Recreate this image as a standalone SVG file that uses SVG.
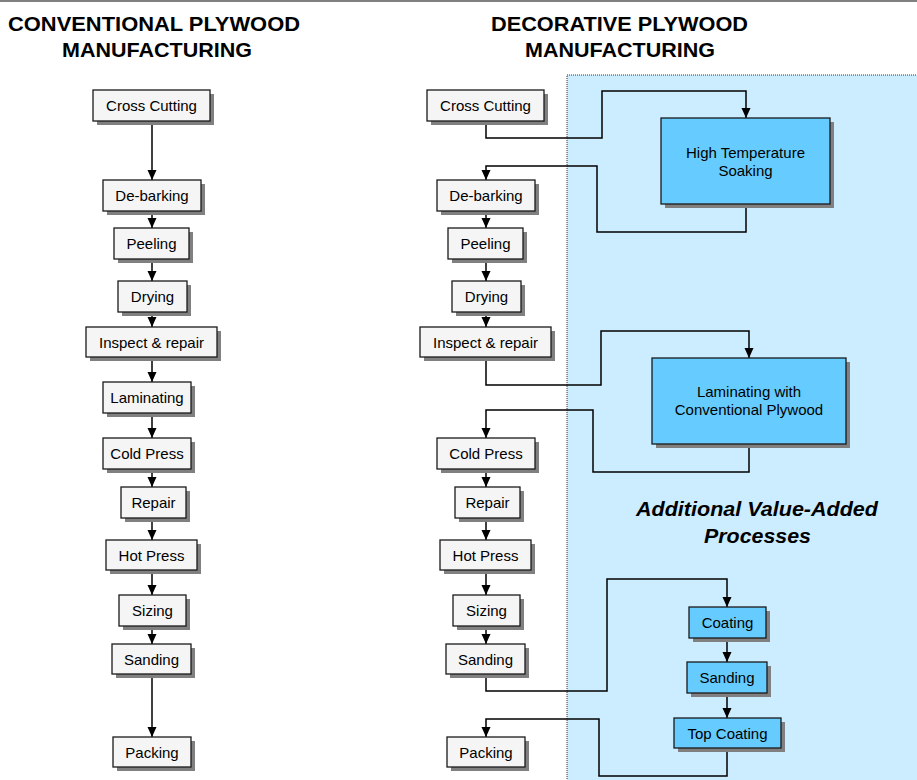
<svg xmlns="http://www.w3.org/2000/svg" width="917" height="780" viewBox="0 0 917 780">
<defs>
<marker id="arr" markerUnits="userSpaceOnUse" markerWidth="11" markerHeight="10" refX="10" refY="4.5" orient="auto" viewBox="0 0 11 10">
<path d="M0,0 L10,4.5 L0,9 Z" fill="#000"/>
</marker>
</defs>
<style>
.title{font-family:"Liberation Sans",Arial,sans-serif;font-weight:bold;font-size:20px;fill:#000;text-anchor:middle}
.sub{font-family:"Liberation Sans",Arial,sans-serif;font-weight:bold;font-style:italic;font-size:20px;fill:#000;text-anchor:middle}
.lbl{font-family:"Liberation Sans",Arial,sans-serif;font-size:15px;fill:#000;text-anchor:middle}
.sh{fill:#808080}
.bx{fill:#F5F5F5;stroke:#1a1a1a;stroke-width:1.3}
.bb{fill:#66CCFF;stroke:#1a1a1a;stroke-width:1.3}
.ln{fill:none;stroke:#000;stroke-width:1.5}
.la{fill:none;stroke:#000;stroke-width:1.5;marker-end:url(#arr)}
</style>
<rect x="0" y="0" width="917" height="2" fill="#808080"/>
<rect x="567" y="75" width="352" height="707" fill="#CCECFF" stroke="#333" stroke-width="1" stroke-dasharray="1,1"/>
<text class="title" x="154" y="31" textLength="292" lengthAdjust="spacingAndGlyphs">CONVENTIONAL PLYWOOD</text>
<text class="title" x="157" y="57" textLength="190" lengthAdjust="spacingAndGlyphs">MANUFACTURING</text>
<text class="title" x="619.5" y="31" textLength="257" lengthAdjust="spacingAndGlyphs">DECORATIVE PLYWOOD</text>
<text class="title" x="620" y="57" textLength="190" lengthAdjust="spacingAndGlyphs">MANUFACTURING</text>
<text class="sub" x="757" y="516" textLength="242" lengthAdjust="spacingAndGlyphs">Additional Value-Added</text>
<text class="sub" x="757.5" y="543" textLength="107" lengthAdjust="spacingAndGlyphs">Processes</text>
<g id="connectors">
<path class="la" d="M152,121 V180"/>
<path class="la" d="M152,211 V228"/>
<path class="la" d="M152,259 V281"/>
<path class="la" d="M152,312 V327"/>
<path class="la" d="M152,357 V382"/>
<path class="la" d="M152,413 V438"/>
<path class="la" d="M152,469 V487"/>
<path class="la" d="M152,518 V540"/>
<path class="la" d="M152,570 V595"/>
<path class="la" d="M152,626 V644"/>
<path class="la" d="M152,674 V737"/>
<path class="la" d="M486,211 V228"/>
<path class="la" d="M486,259 V281"/>
<path class="la" d="M486,312 V327"/>
<path class="la" d="M486,469 V487"/>
<path class="la" d="M486,518 V540"/>
<path class="la" d="M486,570 V595"/>
<path class="la" d="M486,626 V644"/>
<path class="la" d="M486,122 V138 H602 V91 H746 V118"/>
<path class="la" d="M746,204 V232 H597 V166 H486 V180"/>
<path class="la" d="M486,357 V385 H601 V331 H749 V358"/>
<path class="la" d="M749,444 V472 H593 V410 H486 V438"/>
<path class="la" d="M486,674 V691 H607 V579 H727 V607"/>
<path class="la" d="M727,638 V662"/>
<path class="la" d="M727,693 V718"/>
<path class="la" d="M727,748 V776 H599 V719 H486 V737"/>
</g>
<g id="c-cross"><rect class="sh" x="97" y="94" width="117" height="31"/><rect class="bx" x="93" y="90" width="117" height="31"/><text class="lbl" x="151.5" y="111">Cross Cutting</text></g>
<g id="c-debark"><rect class="sh" x="107" y="184" width="98" height="31"/><rect class="bx" x="103" y="180" width="98" height="31"/><text class="lbl" x="152" y="201">De-barking</text></g>
<g id="c-peel"><rect class="sh" x="118" y="232" width="75" height="31"/><rect class="bx" x="114" y="228" width="75" height="31"/><text class="lbl" x="151.5" y="249">Peeling</text></g>
<g id="c-dry"><rect class="sh" x="122" y="285" width="69" height="31"/><rect class="bx" x="118" y="281" width="69" height="31"/><text class="lbl" x="152.5" y="302">Drying</text></g>
<g id="c-inspect"><rect class="sh" x="90" y="331" width="131" height="30"/><rect class="bx" x="86" y="327" width="131" height="30"/><text class="lbl" x="151.5" y="347.5">Inspect &amp; repair</text></g>
<g id="c-lam"><rect class="sh" x="107" y="386" width="88" height="31"/><rect class="bx" x="103" y="382" width="88" height="31"/><text class="lbl" x="147" y="403">Laminating</text></g>
<g id="c-cold"><rect class="sh" x="107" y="442" width="88" height="31"/><rect class="bx" x="103" y="438" width="88" height="31"/><text class="lbl" x="147" y="459">Cold Press</text></g>
<g id="c-repair"><rect class="sh" x="125" y="491" width="65" height="31"/><rect class="bx" x="121" y="487" width="65" height="31"/><text class="lbl" x="153.5" y="508">Repair</text></g>
<g id="c-hot"><rect class="sh" x="110" y="544" width="91" height="30"/><rect class="bx" x="106" y="540" width="91" height="30"/><text class="lbl" x="151.5" y="560.5">Hot Press</text></g>
<g id="c-size"><rect class="sh" x="123" y="599" width="67" height="31"/><rect class="bx" x="119" y="595" width="67" height="31"/><text class="lbl" x="152.5" y="616">Sizing</text></g>
<g id="c-sand"><rect class="sh" x="116" y="648" width="79" height="30"/><rect class="bx" x="112" y="644" width="79" height="30"/><text class="lbl" x="151.5" y="664.5">Sanding</text></g>
<g id="c-pack"><rect class="sh" x="117" y="741" width="78" height="30"/><rect class="bx" x="113" y="737" width="78" height="30"/><text class="lbl" x="152" y="757.5">Packing</text></g>
<g id="d-cross"><rect class="sh" x="431" y="94" width="117" height="31"/><rect class="bx" x="427" y="90" width="117" height="31"/><text class="lbl" x="485.5" y="111">Cross Cutting</text></g>
<g id="d-debark"><rect class="sh" x="441" y="184" width="98" height="31"/><rect class="bx" x="437" y="180" width="98" height="31"/><text class="lbl" x="486" y="201">De-barking</text></g>
<g id="d-peel"><rect class="sh" x="452" y="232" width="75" height="31"/><rect class="bx" x="448" y="228" width="75" height="31"/><text class="lbl" x="485.5" y="249">Peeling</text></g>
<g id="d-dry"><rect class="sh" x="456" y="285" width="69" height="31"/><rect class="bx" x="452" y="281" width="69" height="31"/><text class="lbl" x="486.5" y="302">Drying</text></g>
<g id="d-inspect"><rect class="sh" x="424" y="331" width="131" height="30"/><rect class="bx" x="420" y="327" width="131" height="30"/><text class="lbl" x="485.5" y="347.5">Inspect &amp; repair</text></g>
<g id="d-cold"><rect class="sh" x="441" y="442" width="98" height="31"/><rect class="bx" x="437" y="438" width="98" height="31"/><text class="lbl" x="486" y="459">Cold Press</text></g>
<g id="d-repair"><rect class="sh" x="459" y="491" width="65" height="31"/><rect class="bx" x="455" y="487" width="65" height="31"/><text class="lbl" x="487.5" y="508">Repair</text></g>
<g id="d-hot"><rect class="sh" x="444" y="544" width="91" height="30"/><rect class="bx" x="440" y="540" width="91" height="30"/><text class="lbl" x="485.5" y="560.5">Hot Press</text></g>
<g id="d-size"><rect class="sh" x="457" y="599" width="67" height="31"/><rect class="bx" x="453" y="595" width="67" height="31"/><text class="lbl" x="486.5" y="616">Sizing</text></g>
<g id="d-sand"><rect class="sh" x="450" y="648" width="79" height="30"/><rect class="bx" x="446" y="644" width="79" height="30"/><text class="lbl" x="485.5" y="664.5">Sanding</text></g>
<g id="d-pack"><rect class="sh" x="451" y="741" width="78" height="30"/><rect class="bx" x="447" y="737" width="78" height="30"/><text class="lbl" x="486" y="757.5">Packing</text></g>
<g id="d-soak"><rect class="sh" x="665" y="122" width="169" height="86"/><rect class="bb" x="661" y="118" width="169" height="86"/><text class="lbl" x="745.5" y="158">High Temperature</text><text class="lbl" x="745.5" y="176">Soaking</text></g>
<g id="d-lamconv"><rect class="sh" x="656" y="362" width="194" height="86"/><rect class="bb" x="652" y="358" width="194" height="86"/><text class="lbl" x="749" y="397">Laminating with</text><text class="lbl" x="749" y="415">Conventional Plywood</text></g>
<g id="d-coat"><rect class="sh" x="693" y="611" width="77" height="31"/><rect class="bb" x="689" y="607" width="77" height="31"/><text class="lbl" x="727.5" y="628">Coating</text></g>
<g id="d-sand2"><rect class="sh" x="691" y="666" width="80" height="31"/><rect class="bb" x="687" y="662" width="80" height="31"/><text class="lbl" x="727" y="683">Sanding</text></g>
<g id="d-top"><rect class="sh" x="678" y="722" width="107" height="30"/><rect class="bb" x="674" y="718" width="107" height="30"/><text class="lbl" x="727.5" y="738.5">Top Coating</text></g>
</svg>
